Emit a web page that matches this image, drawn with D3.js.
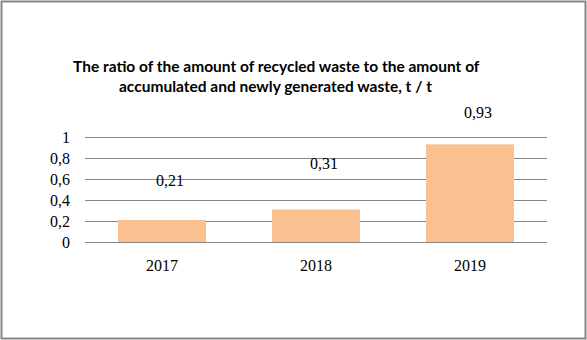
<!DOCTYPE html>
<html>
<head>
<meta charset="utf-8">
<script src="https://cdn.jsdelivr.net/npm/d3@7"></script>
<style>
  html, body { margin: 0; padding: 0; background: #fff; }
  svg { display: block; }
</style>
</head>
<body>
<svg id="chart" width="587" height="340"></svg>
<script>
// Data
const years = ["2017", "2018", "2019"];
const ratios = [0.21, 0.31, 0.93];
const valueLabels = ["0,21", "0,31", "0,93"];
const tickValues = [0, 0.2, 0.4, 0.6, 0.8, 1];
const tickLabels = ["0", "0,2", "0,4", "0,6", "0,8", "1"];
const titleLines = [
  "The ratio of the amount of recycled waste to the amount of",
  "accumulated and newly generated waste, t / t"
];

// Layout
const W = 587, H = 340;
const plot = { left: 85, right: 547, top: 137, bottom: 242 };
// vertical gap between each bar top and its value label
const labelGap = [40, 46, 32];
// left edge of each title line
const titleX = [73, 119];

const serif = "'Liberation Serif', 'DejaVu Serif', serif";
const serifSize = 16;

const svg = d3.select("#chart");

// outer frame
svg.append("rect")
  .attr("x", 1.5).attr("y", 1.5)
  .attr("width", W - 3).attr("height", H - 3)
  .attr("fill", "#fff")
  .attr("stroke", "#868686")
  .attr("stroke-width", 2);

const x = d3.scaleBand()
  .domain(years)
  .range([plot.left, plot.right])
  .paddingInner(66 / 154)
  .paddingOuter(33 / 154);

const y = d3.scaleLinear()
  .domain([0, 1])
  .range([plot.bottom, plot.top]);

// gridlines
svg.append("g")
  .selectAll("line")
  .data(tickValues)
  .join("line")
  .attr("x1", plot.left).attr("x2", plot.right)
  .attr("y1", d => Math.round(y(d)) + 0.5)
  .attr("y2", d => Math.round(y(d)) + 0.5)
  .attr("stroke", "#868686")
  .attr("stroke-width", 1);

// y axis labels
svg.append("g")
  .selectAll("text")
  .data(tickValues)
  .join("text")
  .attr("x", 70)
  .attr("y", d => y(d))
  .attr("dy", "0.35em")
  .attr("text-anchor", "end")
  .attr("font-family", serif)
  .attr("font-size", serifSize)
  .attr("fill", "#000")
  .text((d, i) => tickLabels[i]);

// bars
svg.append("g")
  .selectAll("rect")
  .data(ratios)
  .join("rect")
  .attr("x", (d, i) => x(years[i]))
  .attr("width", x.bandwidth())
  .attr("y", d => y(d))
  .attr("height", d => y(0) - y(d))
  .attr("fill", "#FAC08F");

// redraw baseline over bars
svg.append("line")
  .attr("x1", plot.left).attr("x2", plot.right)
  .attr("y1", Math.round(y(0)) + 0.5).attr("y2", Math.round(y(0)) + 0.5)
  .attr("stroke", "#868686");

// value labels
svg.append("g")
  .selectAll("text")
  .data(ratios)
  .join("text")
  .attr("x", (d, i) => x(years[i]) + x.bandwidth() / 2 + 8)
  .attr("y", (d, i) => y(d) - labelGap[i])
  .attr("dy", "0.35em")
  .attr("text-anchor", "middle")
  .attr("font-family", serif)
  .attr("font-size", serifSize)
  .attr("fill", "#000")
  .text((d, i) => valueLabels[i]);

// category labels
svg.append("g")
  .selectAll("text")
  .data(years)
  .join("text")
  .attr("x", d => x(d) + x.bandwidth() / 2)
  .attr("y", 265)
  .attr("dy", "0.35em")
  .attr("text-anchor", "middle")
  .attr("font-family", serif)
  .attr("font-size", serifSize)
  .attr("fill", "#000")
  .text(d => d);

// title
svg.append("g")
  .selectAll("text")
  .data(titleLines)
  .join("text")
  .attr("x", (d, i) => titleX[i])
  .attr("y", (d, i) => 67 + i * 20)
  .attr("dy", "0.35em")
  .attr("text-anchor", "start")
  .attr("font-family", "Lato, 'Open Sans', sans-serif")
  .attr("font-weight", "bold")
  .attr("font-size", 15.5)
  .attr("fill", "#000")
  .text(d => d);
</script>
</body>
</html>
